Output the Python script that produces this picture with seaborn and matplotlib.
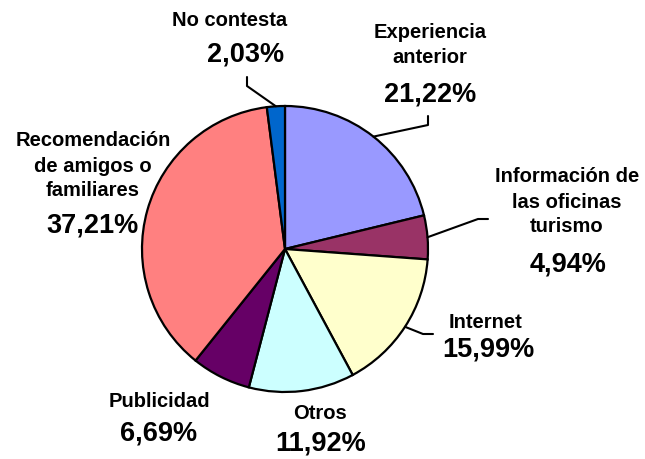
import numpy as np
import matplotlib
matplotlib.use("Agg")
import matplotlib.pyplot as plt
import seaborn as sns

categories = ["Experiencia\nanterior", "Información de\nlas oficinas\nturismo", "Internet", "Otros",
              "Publicidad", "Recomendación\nde amigos o\nfamiliares", "No contesta"]
values = [21.22, 4.94, 15.99, 11.92, 6.69, 37.21, 2.03]
pct_labels = ["21,22%", "4,94%", "15,99%", "11,92%", "6,69%", "37,21%", "2,03%"]
colors = ["#9999FF", "#993366", "#FFFFCC", "#CCFFFF", "#660066", "#FF8080", "#0066CC"]

sns.set_theme(style="white")
plt.rcParams["font.family"] = ["Liberation Sans", "DejaVu Sans"]

W, H = 645, 460
fig = plt.figure(figsize=(W / 100, H / 100), dpi=100)
ax = fig.add_axes([0, 0, 1, 1])

cx, cy, R = 285, H - 250, 143
wedges, _ = ax.pie(values, colors=colors, startangle=90, counterclock=False,
                   center=(cx, cy), radius=R,
                   wedgeprops=dict(edgecolor="black", linewidth=1.6))
ax.set_xlim(0, W)
ax.set_ylim(0, H)
ax.set_aspect("equal")
ax.axis("off")

# label layout in pixel coords from top: name (x, y), pct (x, y), leader elbow points
layout = [
    dict(nx=430, ny=45, px=430, py=95, elbow=[(428, 117), (428, 126)]),
    dict(nx=567, ny=202, px=568, py=265, elbow=[(488, 220), (478, 220)]),
    dict(nx=485, ny=322, px=488, py=350, elbow=[(433, 335), (423, 335)]),
    dict(nx=320, ny=414, px=321, py=444, elbow=None),
    dict(nx=159, ny=402, px=159, py=434, elbow=None),
    dict(nx=93, ny=166, px=92, py=226, elbow=None),
    dict(nx=230, ny=20, px=246, py=55, elbow=[(247, 78), (247, 87)]),
]

for w, name, pct, lay in zip(wedges, categories, pct_labels, layout):
    ax.text(lay["nx"], H - lay["ny"], name, ha="center", va="center",
            fontsize=14.5, fontweight="bold", linespacing=1.4, color="black")
    ax.text(lay["px"], H - lay["py"], pct, ha="center", va="center",
            fontsize=19.5, fontweight="bold", color="black")
    if lay["elbow"]:
        mid = np.deg2rad((w.theta1 + w.theta2) / 2)
        ex, ey = cx + R * np.cos(mid), cy + R * np.sin(mid)
        pts = [(x, H - y) for x, y in lay["elbow"]] + [(ex, ey)]
        xs, ys = zip(*pts)
        ax.plot(xs, ys, color="black", linewidth=1.5)

fig.savefig("out.png", dpi=100, facecolor="white")
